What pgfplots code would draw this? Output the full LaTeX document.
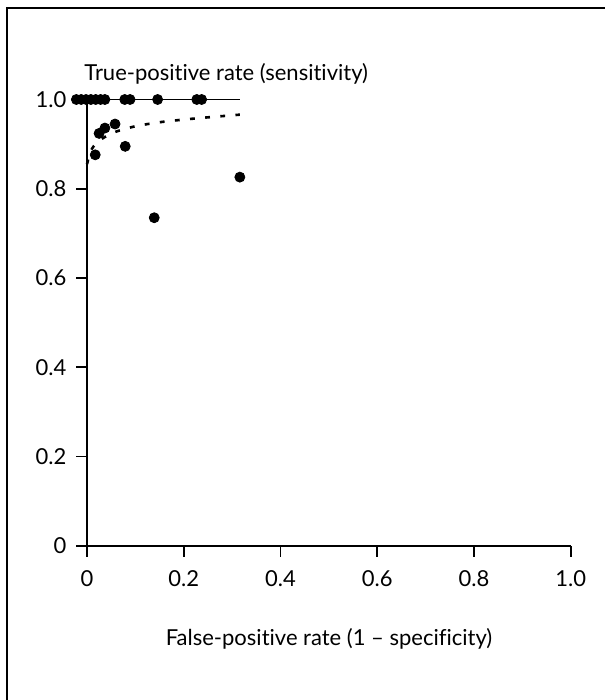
\documentclass[border=0pt]{standalone}
\usepackage{pgfplots}
\pgfplotsset{compat=1.18}
\usepackage{fontspec}
\setmainfont{Lato}[Ligatures={NoCommon,NoDiscretionary,NoContextual}]
\begin{document}
\fontsize{11}{13}\selectfont
\begin{tikzpicture}[x=1pt,y=1pt]
\useasboundingbox (0,0) rectangle (302.5,350);
\draw[line width=0.9pt] (3.5,0) -- (3.5,346) -- (302.5,346);
\begin{axis}[
  at={(43.5pt,77.15pt)}, anchor=south west,
  scale only axis, width=241.85pt, height=223.1pt,
  xmin=0, xmax=1, ymin=0, ymax=1,
  axis lines*=left,
  axis line style={line width=0.9pt},
  every tick/.style={line width=0.9pt, black},
  tick align=outside, major tick length=5.5pt,
  clip=false,
  xtick={0,0.2,0.4,0.6,0.8,1},
  xticklabels={0,0.2,0.4,0.6,0.8,1.0},
  ytick={0,0.2,0.4,0.6,0.8,1},
  yticklabels={0,0.2,0.4,0.6,0.8,1.0},
  /pgf/number format/assume math mode=true,
  xticklabel style={yshift=-3pt},
  yticklabel style={xshift=-1pt},
  tick label style={font=\fontsize{11}{13}\selectfont},
]
\addplot[black, line width=0.7pt] coordinates {(0,1) (0.316,1)};
\addplot[black, line width=1.3pt, dash pattern=on 2.4pt off 5.2pt, smooth] coordinates {
 (0,0.855) (0.005,0.876) (0.01,0.889) (0.02,0.903) (0.04,0.918) (0.06,0.928)
 (0.1,0.940) (0.15,0.949) (0.2,0.955) (0.25,0.960) (0.316,0.966)};
\addplot[only marks, mark=*, mark size=2.5pt, black] coordinates {
 (-0.022,1) (-0.012,1) (-0.002,1) (0.008,1) (0.018,1) (0.028,1) (0.037,1)
 (0.078,1) (0.089,1) (0.146,1) (0.227,1) (0.237,1)
 (0.025,0.924) (0.037,0.936) (0.058,0.945) (0.079,0.895) (0.017,0.876)
 (0.316,0.826) (0.139,0.735)};
\end{axis}
\node[anchor=base west, inner sep=0pt] at (42,309.5) {True-positive rate (sensitivity)};
\node[anchor=base, inner sep=0pt] at (164.5,27) {False-positive rate (1 -- specificity)};
\end{tikzpicture}
\end{document}
